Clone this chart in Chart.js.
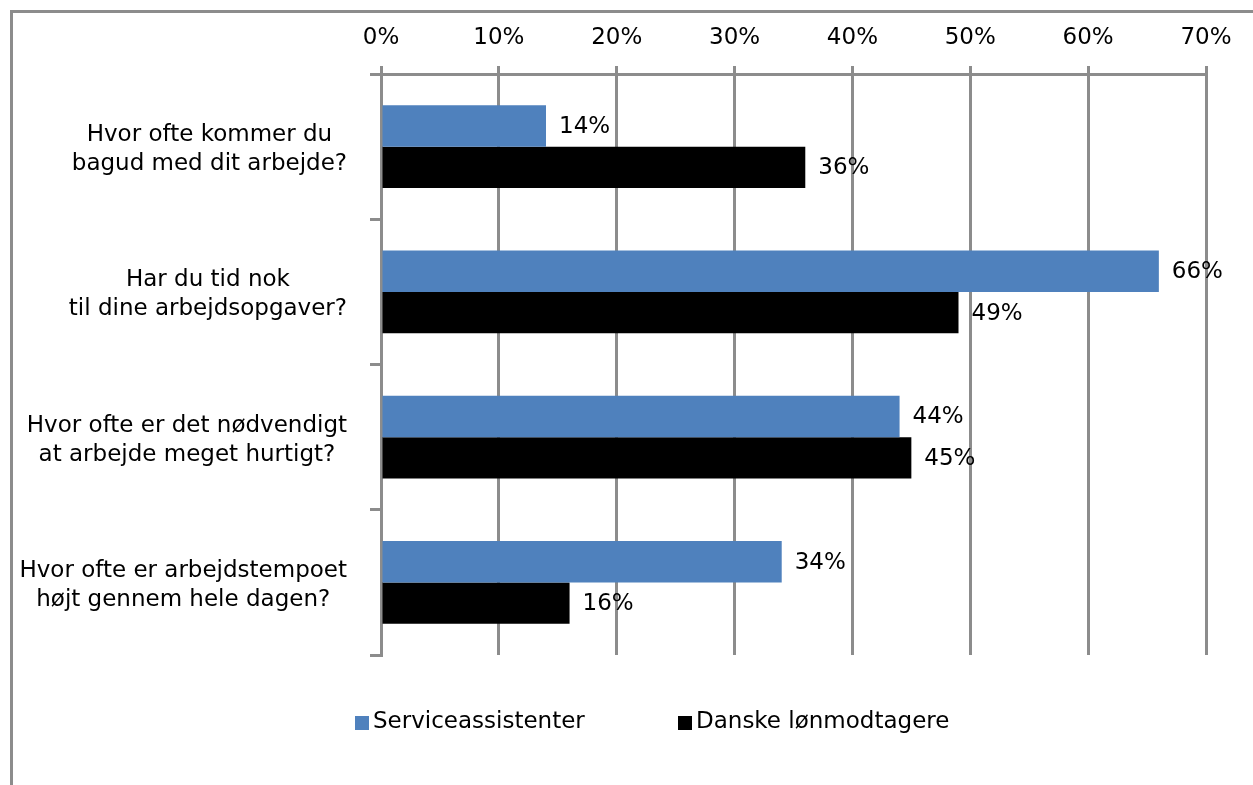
<!DOCTYPE html>
<html>
<head>
<meta charset="utf-8">
<script src="https://cdn.jsdelivr.net/npm/chart.js@4.4.0/dist/chart.umd.min.js"></script>
<style>
html, body { margin: 0; padding: 0; background: #fff; overflow: hidden; }
#frame { position: absolute; left: 10px; top: 10px; width: 1260px; height: 800px; border: 3px solid #8c8c8c; }
#wrap { position: absolute; left: 0; top: 0; width: 1253px; height: 785px; }
</style>
</head>
<body>
<div id="frame"></div>
<div id="wrap"><canvas id="myChart"></canvas></div>
<script>
let questions = [
    ["Hvor ofte kommer du", "bagud med dit arbejde?"],
    ["Har du tid nok", "til dine arbejdsopgaver?"],
    ["Hvor ofte er det nødvendigt", "at arbejde meget hurtigt?"],
    ["Hvor ofte er arbejdstempoet", "højt gennem hele dagen?"]
]
let serviceassistenter = [14, 66, 44, 34]
let loenmodtagere = [36, 49, 45, 16]
let seriesNames = ["Serviceassistenter", "Danske lønmodtagere"]
let xTicks = [0, 10, 20, 30, 40, 50, 60, 70]

let gray = "#8c8c8c"
let fontFam = "'DejaVu Sans', Verdana, sans-serif"
let fontSize = 23
let legendX = [355, 678]

// value labels right of each bar
const barLabels = {
    id: "barLabels",
    afterDatasetsDraw(chart) {
        let ctx = chart.ctx
        ctx.save()
        ctx.font = fontSize + "px " + fontFam
        ctx.fillStyle = "#000"
        ctx.textAlign = "left"
        ctx.textBaseline = "middle"
        chart.data.datasets.forEach((ds, i) => {
            chart.getDatasetMeta(i).data.forEach((bar, j) => {
                ctx.fillText(ds.data[j] + "%", bar.x + 13, bar.y + 1)
            })
        })
        ctx.restore()
    }
}

// category labels: block right aligned, lines centred inside the block
const questionLabels = {
    id: "questionLabels",
    afterDraw(chart) {
        let ctx = chart.ctx
        let yScale = chart.scales.y
        let right = chart.chartArea.left - 34
        let lineH = 29
        ctx.save()
        ctx.font = fontSize + "px " + fontFam
        ctx.fillStyle = "#000"
        ctx.textAlign = "center"
        ctx.textBaseline = "middle"
        chart.data.labels.forEach((lines, i) => {
            let widest = Math.max(...lines.map(l => ctx.measureText(l).width))
            let cx = right - widest / 2
            let cy = yScale.getPixelForValue(i) + 3
            let y0 = cy - (lines.length - 1) * lineH / 2
            lines.forEach((l, k) => ctx.fillText(l, cx, y0 + k * lineH))
        })
        ctx.restore()
    }
}

// legend drawn under the plot
const bottomLegend = {
    id: "bottomLegend",
    afterDraw(chart) {
        let ctx = chart.ctx
        let y = chart.chartArea.bottom + 67
        ctx.save()
        ctx.font = fontSize + "px " + fontFam
        ctx.textAlign = "left"
        ctx.textBaseline = "middle"
        chart.data.datasets.forEach((ds, i) => {
            ctx.fillStyle = ds.backgroundColor
            ctx.fillRect(legendX[i], y - 6, 14, 14)
            ctx.fillStyle = "#000"
            ctx.fillText(ds.label, legendX[i] + 18, y)
        })
        ctx.restore()
    }
}

myChart = new Chart(document.getElementById("myChart"), {
    type: "bar",
    data: {
        labels: questions,
        datasets: [
            { label: seriesNames[0], data: serviceassistenter, backgroundColor: "#4f81bd" },
            { label: seriesNames[1], data: loenmodtagere, backgroundColor: "#000000" }
        ]
    },
    options: {
        indexAxis: "y",
        responsive: true,
        maintainAspectRatio: false,
        animation: false,
        datasets: { bar: { categoryPercentage: 0.57, barPercentage: 1.0 } },
        layout: { padding: { top: 0, right: 47, bottom: 130, left: 0 } },
        plugins: {
            legend: { display: false },
            tooltip: { enabled: false }
        },
        scales: {
            x: {
                position: "top",
                min: xTicks[0],
                max: xTicks[xTicks.length - 1],
                afterBuildTicks: s => { s.ticks = xTicks.map(v => ({ value: v })) },
                afterFit: s => { s.height = 74 },
                grid: { color: gray, lineWidth: 3, tickLength: 8 },
                border: { color: gray, width: 3 },
                ticks: {
                    color: "#000",
                    padding: 14,
                    font: { family: fontFam, size: fontSize },
                    callback: v => v + "%"
                }
            },
            y: {
                afterFit: s => { s.width = 381 },
                grid: { offset: true, drawOnChartArea: false, color: gray, lineWidth: 3, tickLength: 11 },
                border: { color: gray, width: 3 },
                ticks: { display: false }
            }
        }
    },
    plugins: [barLabels, questionLabels, bottomLegend]
})
</script>
</body>
</html>
